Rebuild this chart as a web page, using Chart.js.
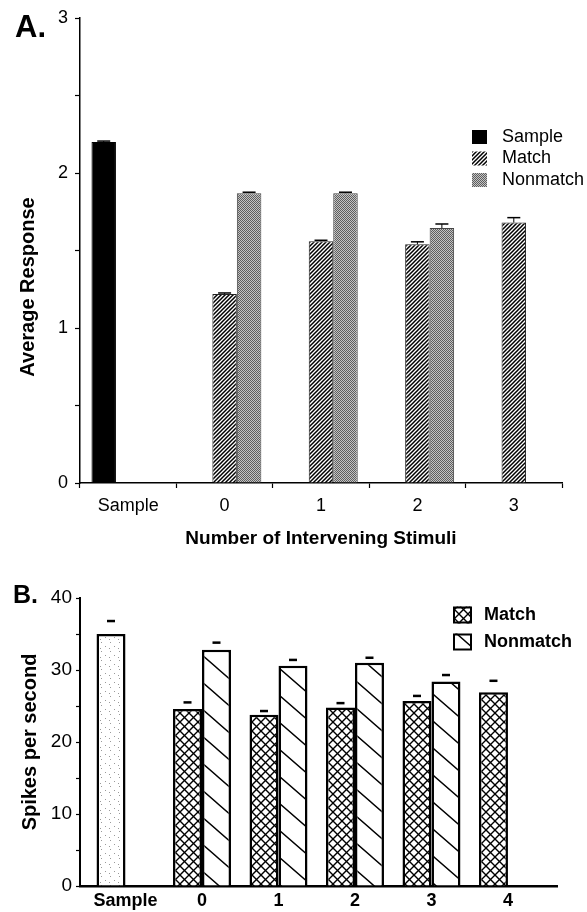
<!DOCTYPE html>
<html>
<head>
<meta charset="utf-8">
<script src="https://cdn.jsdelivr.net/npm/chart.js@4.4.1/dist/chart.umd.min.js"></script>
<style>
  html, body { margin: 0; padding: 0; background: #fff; }
  #wrap { position: relative; width: 587px; height: 912px; overflow: hidden; }
  canvas { position: absolute; left: 0; }
  #panelA { top: 0; }
  #panelB { top: 560px; }
  .tag { position: absolute; font-family: 'Liberation Sans', Arial, sans-serif; font-weight: bold; color: #000; line-height: 1; }
</style>
</head>
<body>
<div id="wrap">
  <canvas id="panelA" width="587" height="560"></canvas>
  <canvas id="panelB" width="587" height="352"></canvas>
  <div class="tag" style="left:15px;top:11px;font-size:31px">A.</div>
  <div class="tag" style="left:13px;top:582px;font-size:25px">B.</div>
</div>
<script>
// ---- Panel A: average response by number of intervening stimuli ----
const labelsA = ['Sample', '0', '1', '2', '3'];
const sampleA = [2.2, null, null, null, null];
const matchA = [null, 1.22, 1.56, 1.54, 1.68];
const nonmatchA = [null, 1.87, 1.87, 1.645, null];
const sampleErrA = [0.006, null, null, null, null];
const matchErrA = [null, 0.006, 0.006, 0.016, 0.032];
const nonmatchErrA = [null, 0.006, 0.006, 0.026, null];
const ticksA = [0, 1, 2, 3];

// ---- Panel B: spikes per second ----
const labelsB = ['Sample', '0', '1', '2', '3', '4'];
const sampleB = [35.0, null, null, null, null, null];
const matchB = [null, 24.6, 23.8, 24.8, 25.7, 26.9];
const nonmatchB = [null, 32.8, 30.6, 31.0, 28.4, null];
const sampleErrB = [1.8, null, null, null, null, null];
const matchErrB = [null, 0.9, 0.5, 0.6, 0.7, 1.6];
const nonmatchErrB = [null, 1.0, 0.8, 0.7, 0.9, null];
const ticksB = [0, 10, 20, 30, 40];

const FONT = "'Liberation Sans', Arial, Helvetica, sans-serif";
Chart.defaults.font.family = FONT;
Chart.defaults.color = '#000';

// fill patterns for the bars
function tile(w, h, paint) {
  const c = document.createElement('canvas');
  c.width = w; c.height = h;
  const g = c.getContext('2d');
  paint(g, w, h);
  return g.createPattern(c, 'repeat');
}
function lines(g, w, h, dir, lw) {
  g.strokeStyle = '#000';
  g.lineWidth = lw;
  g.beginPath();
  for (let k = -1; k <= 1; k++) {
    if (dir === '/') { g.moveTo(k * w - 1, h + h / w); g.lineTo(k * w + w + 1, -h / w); }
    else { g.moveTo(k * w - 1, -h / w); g.lineTo(k * w + w + 1, h + h / w); }
  }
  g.stroke();
}
const hatchA = tile(4, 4, (g, w, h) => { g.fillStyle = '#fff'; g.fillRect(0, 0, w, h); lines(g, w, h, '/', 1.5); });
const stippleA = tile(4, 4, (g) => {
  for (let x = 0; x < 4; x++) for (let y = 0; y < 4; y++) {
    g.fillStyle = ((x + y) % 2 === 0) ? '#5e5e5e' : '#c4c4c4';
    g.fillRect(x, y, 1, 1);
  }
});
const dotsB = tile(9, 9, (g) => {
  g.fillStyle = '#fff'; g.fillRect(0, 0, 9, 9);
  g.fillStyle = '#9a9a9a';
  g.fillRect(2, 1, 1, 1); g.fillRect(6, 5, 1, 1); g.fillRect(1, 7, 1, 1);
});
const crossB = tile(9, 9, (g, w, h) => { g.fillStyle = '#fff'; g.fillRect(0, 0, w, h); lines(g, w, h, '/', 1.4); lines(g, w, h, '\\', 1.4); });
const slashB = tile(31, 27, (g, w, h) => { g.fillStyle = '#fff'; g.fillRect(0, 0, w, h); lines(g, w, h, '\\', 1.4); });

// error caps drawn above each bar
const whiskers = {
  id: 'whiskers',
  afterDatasetsDraw(chart, args, o) {
    const ctx = chart.ctx;
    const ys = chart.scales.y;
    chart.data.datasets.forEach((ds, di) => {
      if (!ds.errors) return;
      const meta = chart.getDatasetMeta(di);
      meta.data.forEach((bar, i) => {
        const raw = ds.data[i];
        const v = (raw !== null && typeof raw === 'object') ? raw.y : raw;
        const e = ds.errors[i];
        if (v === null || v === undefined || e === null || e === undefined) return;
        const top = ys.getPixelForValue(v + e);
        ctx.save();
        ctx.strokeStyle = '#000';
        if (o.stem) {
          ctx.lineWidth = o.stemWidth;
          ctx.beginPath(); ctx.moveTo(bar.x, bar.y); ctx.lineTo(bar.x, top); ctx.stroke();
        }
        ctx.lineWidth = o.capWidth;
        ctx.beginPath(); ctx.moveTo(bar.x - o.cap / 2, top); ctx.lineTo(bar.x + o.cap / 2, top); ctx.stroke();
        ctx.restore();
      });
    });
  }
};

// key box listing the series
const key = {
  id: 'key',
  afterDraw(chart, args, o) {
    const ctx = chart.ctx;
    ctx.save();
    ctx.font = o.font;
    ctx.textBaseline = 'middle';
    let y = o.y;
    chart.data.datasets.forEach(ds => {
      if (o.skip && o.skip.includes(ds.label)) return;
      ctx.fillStyle = ds.backgroundColor;
      ctx.fillRect(o.x, y - o.box[1] / 2, o.box[0], o.box[1]);
      if (o.boxBorder) {
        ctx.lineWidth = o.boxBorder;
        ctx.strokeStyle = '#000';
        ctx.strokeRect(o.x + o.boxBorder / 2, y - o.box[1] / 2 + o.boxBorder / 2, o.box[0] - o.boxBorder, o.box[1] - o.boxBorder);
      }
      ctx.fillStyle = '#000';
      ctx.fillText(ds.label, o.textX, y);
      y += o.step;
    });
    ctx.restore();
  }
};

// rotated caption beside the value axis
const sideCaption = {
  id: 'sideCaption',
  afterDraw(chart, args, o) {
    if (!o.text) return;
    const ctx = chart.ctx;
    ctx.save();
    ctx.translate(o.x, o.y);
    ctx.rotate(-Math.PI / 2);
    ctx.font = o.font;
    ctx.textAlign = 'center';
    ctx.textBaseline = 'middle';
    ctx.fillStyle = '#000';
    ctx.fillText(o.text, 0, 0);
    ctx.restore();
  }
};

new Chart(document.getElementById('panelA'), {
  type: 'bar',
  data: {
    labels: labelsA,
    datasets: [
      { label: 'Sample', data: sampleA, errors: sampleErrA, backgroundColor: '#000', borderColor: '#000', borderWidth: 1 },
      { label: 'Match', data: matchA, errors: matchErrA, backgroundColor: hatchA, borderColor: '#222', borderWidth: 1 },
      { label: 'Nonmatch', data: nonmatchA, errors: nonmatchErrA, backgroundColor: stippleA, borderColor: '#444', borderWidth: 1 }
    ]
  },
  plugins: [whiskers, key, sideCaption],
  options: {
    responsive: false,
    animation: false,
    events: [],
    layout: { padding: { left: 0, right: 25, top: 18, bottom: 0 } },
    datasets: { bar: { categoryPercentage: 0.762, barPercentage: 1 } },
    scales: {
      x: {
        type: 'category',
        offset: true,
        grid: { display: true, offset: true, drawOnChartArea: false, drawTicks: true, tickLength: 5, tickWidth: 1.2, tickColor: '#000' },
        border: { display: true, color: '#000', width: 1.5 },
        ticks: { font: { size: 18 }, padding: 7, maxRotation: 0, autoSkip: false },
        title: { display: true, text: 'Number of Intervening Stimuli', font: { size: 19, weight: 'bold' }, padding: { top: 0, bottom: 10 } },
        afterFit(s) { s.height = 77; s.paddingLeft = 0; s.paddingRight = 0; }
      },
      y: {
        min: 0, max: 3,
        grid: { drawOnChartArea: false, drawTicks: true, tickLength: 5, tickWidth: 1.2, tickColor: '#000' },
        border: { display: true, color: '#000', width: 1.5 },
        ticks: {
          stepSize: 0.5, font: { size: 18 }, padding: 7,
          callback: v => ticksA.includes(v) ? String(v) : ''
        },
        afterFit(s) { s.width = 80; s.paddingTop = 0; s.paddingBottom = 0; }
      }
    },
    plugins: {
      legend: { display: false },
      tooltip: { enabled: false },
      whiskers: { stem: true, stemWidth: 1, cap: 13, capWidth: 1.5 },
      key: { x: 472, y: 137, step: 21.5, box: [15, 14], textX: 502, font: '18px ' + FONT },
      sideCaption: { text: 'Average Response', x: 28, y: 287, font: 'bold 20px ' + FONT }
    }
  }
});

const toPoints = arr => arr.map((v, i) => ({ x: i, y: v }));

new Chart(document.getElementById('panelB'), {
  type: 'bar',
  data: {
    datasets: [
      { label: 'Sample', data: toPoints(sampleB), errors: sampleErrB, stack: 'left', backgroundColor: dotsB, borderColor: '#000', borderWidth: 2.5 },
      { label: 'Match', data: toPoints(matchB), errors: matchErrB, stack: 'left', backgroundColor: crossB, borderColor: '#000', borderWidth: 2.5 },
      { label: 'Nonmatch', data: toPoints(nonmatchB), errors: nonmatchErrB, stack: 'right', backgroundColor: slashB, borderColor: '#000', borderWidth: 2.5 }
    ]
  },
  plugins: [whiskers, key],
  options: {
    responsive: false,
    animation: false,
    events: [],
    layout: { padding: { left: 0, right: 30, top: 38, bottom: 0 } },
    datasets: { bar: { categoryPercentage: 0.758, barPercentage: 1 } },
    scales: {
      x: {
        type: 'linear',
        offset: false,
        min: -0.595, max: 5.641,
        grid: { display: false, offset: false, drawTicks: false },
        border: { display: true, color: '#000', width: 2.5 },
        ticks: { font: { size: 18, weight: 'bold' }, padding: 4, maxRotation: 0, autoSkip: false,
          callback: v => labelsB[v] !== undefined ? labelsB[v] : '' },
        afterBuildTicks(s) { s.ticks = labelsB.map((_, i) => ({ value: i })); },
        afterFit(s) { s.height = 26; s.paddingLeft = 0; s.paddingRight = 0; }
      },
      y: {
        min: 0, max: 40,
        stacked: false,
        grid: { drawOnChartArea: false, drawTicks: true, tickLength: 4, tickWidth: 1.2, tickColor: '#000' },
        border: { display: true, color: '#000', width: 2 },
        ticks: { stepSize: 5, font: { size: 19 }, padding: 4,
          callback: v => ticksB.includes(v) ? String(v) : '' },
        title: { display: true, text: 'Spikes per second', font: { size: 20, weight: 'bold' }, padding: { top: 18, bottom: 0 } },
        afterFit(s) { s.width = 80; s.paddingTop = 0; s.paddingBottom = 0; }
      }
    },
    plugins: {
      legend: { display: false },
      tooltip: { enabled: false },
      whiskers: { stem: false, cap: 8, capWidth: 2.5 },
      key: { x: 453, y: 55, step: 27, box: [19, 17], boxBorder: 2, textX: 484, font: 'bold 18px ' + FONT, skip: ['Sample'] }
    }
  }
});
</script>
</body>
</html>
